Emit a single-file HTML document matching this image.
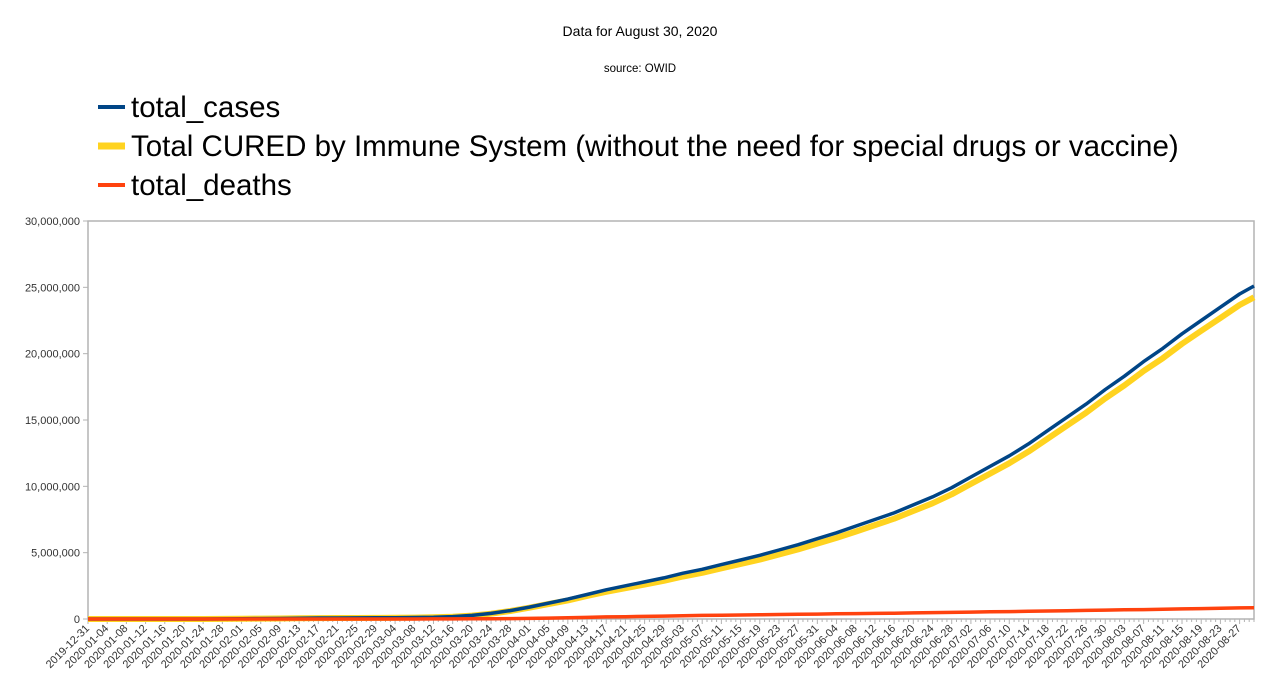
<!DOCTYPE html>
<html><head><meta charset="utf-8"><style>
body{margin:0;background:#fff;}
svg{display:block;font-family:"Liberation Sans",sans-serif;}
</style></head><body>
<svg id="chart" width="1280" height="694" viewBox="0 0 1280 694">
<text x="640" y="36" text-anchor="middle" font-size="14">Data for August 30, 2020</text>
<text x="640" y="72" text-anchor="middle" font-size="11.5">source: OWID</text>
<g>
<g><line x1="98" y1="107" x2="125" y2="107" stroke="#004586" stroke-width="4"/><text x="131" y="117" font-size="29.5">total_cases</text></g>
<g><line x1="98" y1="146" x2="125" y2="146" stroke="#ffd320" stroke-width="7"/><text x="131" y="156" font-size="29.5">Total CURED by Immune System (without the need for special drugs or vaccine)</text></g>
<g><line x1="98" y1="185" x2="125" y2="185" stroke="#ff420e" stroke-width="4"/><text x="131" y="195" font-size="29.5">total_deaths</text></g>
</g>
<rect x="88" y="221" width="1166" height="398" fill="none" stroke="#b3b3b3" stroke-width="1.5"/>
<g id="axes"></g>
<g id="series"></g>
</svg>
<script>
const days = [0,4,8,12,16,20,24,28,32,36,40,44,48,52,56,60,64,68,72,76,80,84,88,92,96,100,104,108,112,116,120,124,128,132,136,140,144,148,152,156,160,164,168,172,176,180,184,188,192,196,200,204,208,212,216,220,224,228,232,236,240,243];
const tickLabels = ["2019-12-31","2020-01-04","2020-01-08","2020-01-12","2020-01-16","2020-01-20","2020-01-24","2020-01-28","2020-02-01","2020-02-05","2020-02-09","2020-02-13","2020-02-17","2020-02-21","2020-02-25","2020-02-29","2020-03-04","2020-03-08","2020-03-12","2020-03-16","2020-03-20","2020-03-24","2020-03-28","2020-04-01","2020-04-05","2020-04-09","2020-04-13","2020-04-17","2020-04-21","2020-04-25","2020-04-29","2020-05-03","2020-05-07","2020-05-11","2020-05-15","2020-05-19","2020-05-23","2020-05-27","2020-05-31","2020-06-04","2020-06-08","2020-06-12","2020-06-16","2020-06-20","2020-06-24","2020-06-28","2020-07-02","2020-07-06","2020-07-10","2020-07-14","2020-07-18","2020-07-22","2020-07-26","2020-07-30","2020-08-03","2020-08-07","2020-08-11","2020-08-15","2020-08-19","2020-08-23","2020-08-27"];
const cases = [0,0,0,0,0,0.001,0.001,0.006,0.012,0.028,0.04,0.06,0.073,0.077,0.081,0.087,0.095,0.11,0.13,0.18,0.27,0.42,0.63,0.9,1.2,1.5,1.85,2.2,2.5,2.8,3.1,3.45,3.75,4.1,4.45,4.8,5.2,5.6,6.05,6.5,7.0,7.5,8.0,8.6,9.2,9.9,10.7,11.5,12.3,13.2,14.2,15.2,16.2,17.3,18.3,19.4,20.4,21.5,22.5,23.5,24.5,25.1];
const cured = [0,0,0,0,0,0.001,0.001,0.006,0.012,0.027,0.039,0.059,0.071,0.075,0.078,0.084,0.092,0.106,0.125,0.173,0.258,0.4,0.6,0.85,1.13,1.4,1.73,2.05,2.32,2.6,2.88,3.2,3.48,3.82,4.15,4.48,4.86,5.25,5.68,6.11,6.59,7.08,7.56,8.14,8.72,9.4,10.18,10.96,11.74,12.62,13.6,14.58,15.55,16.63,17.61,18.69,19.66,20.74,21.72,22.69,23.67,24.25];
const deaths = [0,0,0,0,0,0,0,0,0.0003,0.0006,0.0009,0.0014,0.0019,0.0022,0.0027,0.003,0.0033,0.0037,0.0046,0.0073,0.012,0.019,0.031,0.047,0.068,0.095,0.119,0.155,0.176,0.199,0.22,0.245,0.27,0.285,0.305,0.32,0.34,0.355,0.37,0.39,0.41,0.425,0.44,0.46,0.48,0.5,0.52,0.54,0.56,0.58,0.6,0.62,0.645,0.67,0.69,0.71,0.74,0.76,0.785,0.81,0.835,0.845];
const yTicks = [0,5,10,15,20,25,30];
const yTickLabels = ["0","5,000,000","10,000,000","15,000,000","20,000,000","25,000,000","30,000,000"];
const totalDays = 243;

const NS="http://www.w3.org/2000/svg";
const X0=88,X1=1254,Y0=619,Y1=221;
const xs=d=>X0+d*(X1-X0)/totalDays;
const ys=v=>Y0-v*(Y0-Y1)/30;
function mk(tag,attrs,parent){const e=document.createElementNS(NS,tag);for(const k in attrs)e.setAttribute(k,attrs[k]);parent.appendChild(e);return e;}
const axes=document.getElementById('axes');
yTicks.forEach((v,i)=>{
  mk('line',{x1:X0-5,x2:X0,y1:ys(v),y2:ys(v),stroke:'#b3b3b3'},axes);
  const t=mk('text',{x:X0-8,y:ys(v)+4,'text-anchor':'end','font-size':'11',fill:'#333'},axes);
  
  
  t.textContent=yTickLabels[i];
});
for(let d=0;d<=totalDays;d++){
  mk('line',{x1:xs(d),x2:xs(d),y1:Y0,y2:Y0+(d%4===0?5:3),stroke:'#b3b3b3'},axes);
}
tickLabels.forEach((lab,i)=>{
  const x=xs(i*4)+2,y=Y0+10;
  const t=mk('text',{x:x,y:y,'text-anchor':'end','font-size':'11',fill:'#333',transform:`rotate(-45 ${x} ${y})`},axes);
  
  
  t.textContent=lab;
});
const series=document.getElementById('series');
function line(vals,color,w,name){
  const pts=vals.map((v,i)=>xs(days[i]).toFixed(1)+','+ys(v).toFixed(1)).join(' ');
  const p=mk('polyline',{points:pts,fill:'none',stroke:color,'stroke-width':w,'stroke-linejoin':'round'},series);
  
  
}
line(cured,'#ffd320',6,'line-total-cured');
line(cases,'#004586',3.5,'line-total-cases');
line(deaths,'#ff420e',3.5,'line-total-deaths');
</script>
</body></html>
